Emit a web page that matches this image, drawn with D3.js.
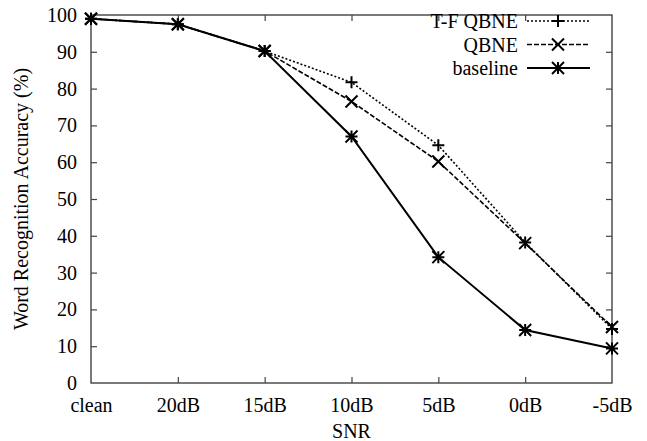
<!DOCTYPE html>
<html>
<head>
<meta charset="utf-8">
<script src="https://cdn.jsdelivr.net/npm/d3@7"></script>
<style>
  body { margin: 0; background: #fff; }
</style>
</head>
<body>
<script>
// data
const categories = ["clean", "20dB", "15dB", "10dB", "5dB", "0dB", "-5dB"];
const yTicks = [0, 10, 20, 30, 40, 50, 60, 70, 80, 90, 100];
const tfQbne = [99, 97.5, 90.2, 81.7, 64.6, 38.2, 14.7];
const qbne = [99, 97.5, 90.2, 76.5, 60.2, 38, 15.2];
const baseline = [99, 97.5, 90.2, 67, 34.2, 14.4, 9.4];

const series = [
  { name: "T-F QBNE", values: tfQbne, dash: "2,2", width: 1.6, marker: "plus" },
  { name: "QBNE", values: qbne, dash: "5,2", width: 1.6, marker: "cross" },
  { name: "baseline", values: baseline, dash: null, width: 2, marker: "star" }
];

const w = 647;
const h = 441;
const margin = { top: 15, right: 35, bottom: 58, left: 91 };
const serif = "Liberation Serif";

const svg = d3.select("body")
              .append("svg")
              .attr("width", w)
              .attr("height", h);

const x = d3.scalePoint()
            .domain(categories)
            .range([margin.left, w - margin.right]);

const y = d3.scaleLinear()
            .domain([0, 100])
            .range([h - margin.bottom, margin.top]);

const tick = 6;
const fontSize = 20;

// frame
svg.append("rect")
   .attr("x", margin.left)
   .attr("y", margin.top)
   .attr("width", w - margin.left - margin.right)
   .attr("height", h - margin.top - margin.bottom)
   .attr("fill", "none")
   .attr("stroke", "#333")
   .attr("stroke-width", 1.3);

// axes, ticks mirrored on all four sides
const axLeft = svg.append("g")
   .attr("transform", "translate(" + margin.left + ",0)")
   .call(d3.axisLeft(y).tickValues(yTicks).tickSize(-tick).tickPadding(tick + 8));
const axRight = svg.append("g")
   .attr("transform", "translate(" + (w - margin.right) + ",0)")
   .call(d3.axisRight(y).tickValues(yTicks).tickSize(-tick).tickFormat(""));
const axBottom = svg.append("g")
   .attr("transform", "translate(0," + (h - margin.bottom) + ")")
   .call(d3.axisBottom(x).tickSize(-tick).tickPadding(tick + 9));
const axTop = svg.append("g")
   .attr("transform", "translate(0," + margin.top + ")")
   .call(d3.axisTop(x).tickSize(-tick).tickFormat(""));

[axLeft, axRight, axBottom, axTop].forEach(g => {
  g.attr("font-family", serif).attr("font-size", fontSize);
  g.select(".domain").remove();
  g.selectAll(".tick line").attr("stroke", "#444").attr("stroke-width", 1.2);
  g.selectAll("text")
   .attr("font-family", serif)
   .attr("font-size", fontSize)
   .attr("fill", "#000");
});

// drop edge ticks that sit on the frame corners
[axBottom, axTop].forEach(g => g.selectAll(".tick").filter(d => d === "clean" || d === "-5dB").select("line").remove());
[axLeft, axRight].forEach(g => g.selectAll(".tick").filter(d => d === 0 || d === 100).select("line").remove());

// axis titles
svg.append("text")
   .attr("x", (margin.left + w - margin.right) / 2)
   .attr("y", 438)
   .attr("text-anchor", "middle")
   .attr("font-family", serif)
   .attr("font-size", fontSize)
   .text("SNR");

svg.append("text")
   .attr("transform", "translate(28," + ((margin.top + h - margin.bottom) / 2) + ") rotate(-90)")
   .attr("text-anchor", "middle")
   .attr("font-family", serif)
   .attr("font-size", fontSize)
   .text("Word Recognition Accuracy (%)");

// markers
function drawMarker(g, type, cx, cy, s) {
  const p = d3.path();
  if (type === "plus" || type === "star") {
    p.moveTo(cx - s, cy); p.lineTo(cx + s, cy);
    p.moveTo(cx, cy - s); p.lineTo(cx, cy + s);
  }
  if (type === "cross" || type === "star") {
    p.moveTo(cx - s, cy - s); p.lineTo(cx + s, cy + s);
    p.moveTo(cx - s, cy + s); p.lineTo(cx + s, cy - s);
  }
  g.append("path")
   .attr("d", p.toString())
   .attr("stroke", "#000")
   .attr("stroke-width", 2)
   .attr("fill", "none");
}

const line = d3.line()
               .x((d, i) => x(categories[i]))
               .y(d => y(d));

series.forEach(s => {
  const g = svg.append("g");
  g.append("path")
   .datum(s.values)
   .attr("d", line)
   .attr("fill", "none")
   .attr("stroke", "#000")
   .attr("stroke-width", s.width)
   .attr("stroke-dasharray", s.dash);
  s.values.forEach((v, i) => drawMarker(g, s.marker, x(categories[i]), y(v), 6));
});

// legend
const legend = svg.append("g");
series.forEach((s, i) => {
  const ly = 21 + i * 23.5;
  legend.append("text")
        .attr("x", 518)
        .attr("y", ly)
        .attr("dy", "0.35em")
        .attr("text-anchor", "end")
        .attr("font-family", serif)
        .attr("font-size", fontSize)
        .text(s.name);
  legend.append("line")
        .attr("x1", 527)
        .attr("x2", 590)
        .attr("y1", ly)
        .attr("y2", ly)
        .attr("stroke", "#000")
        .attr("stroke-width", s.width)
        .attr("stroke-dasharray", s.dash);
  drawMarker(legend, s.marker, 558, ly, 6);
});
</script>
</body>
</html>
